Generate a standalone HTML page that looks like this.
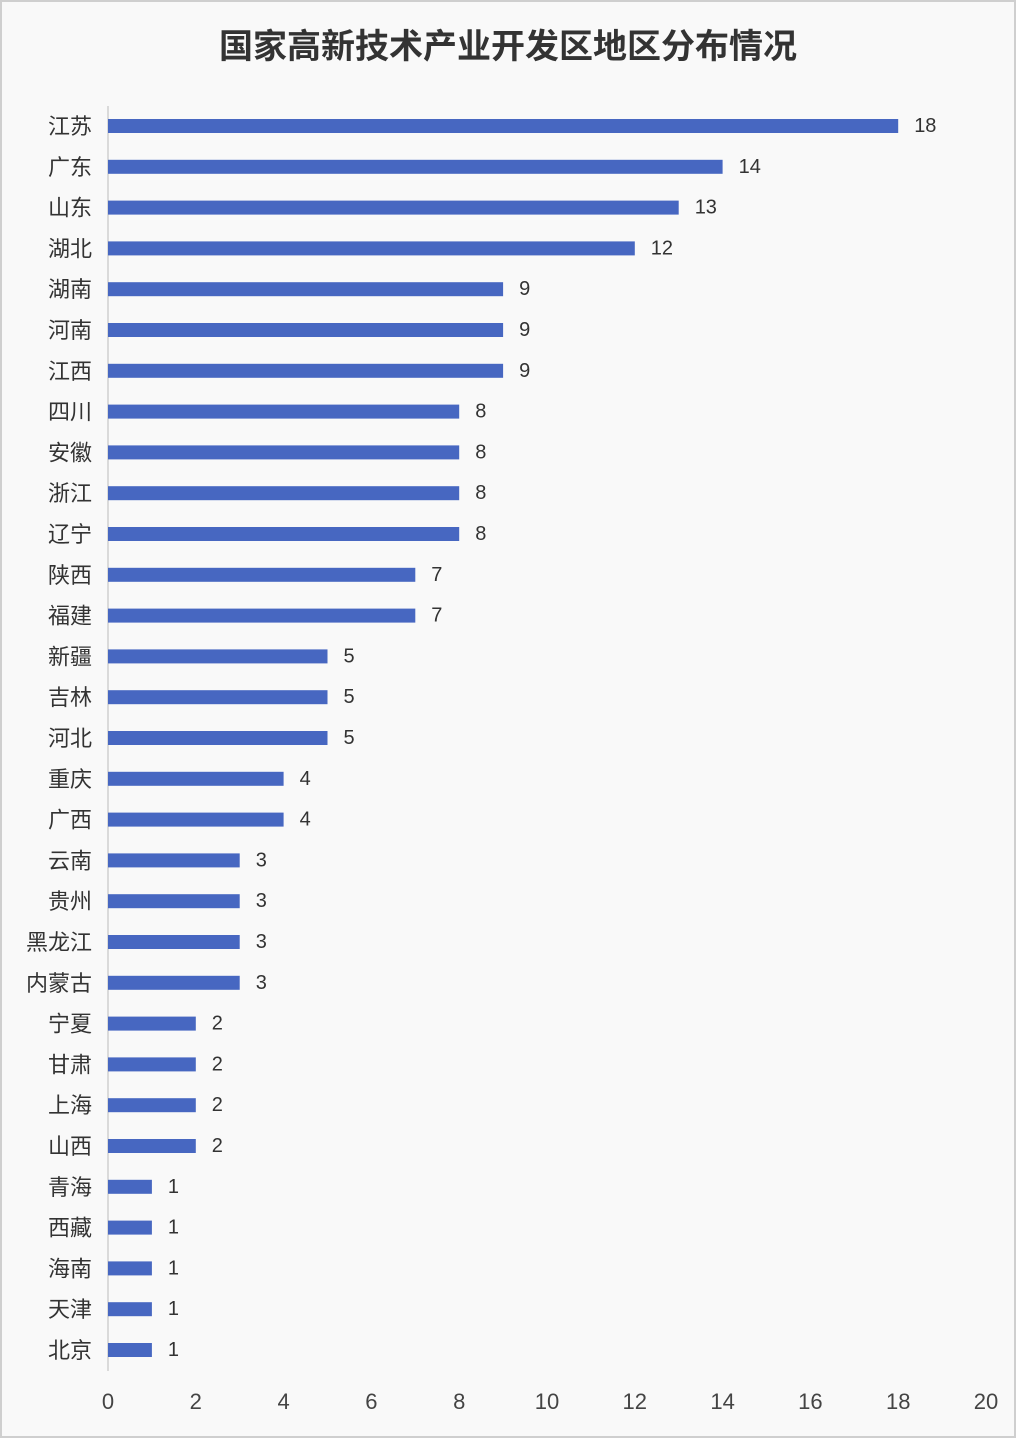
<!DOCTYPE html>
<html><head><meta charset="utf-8"><style>
body{margin:0;width:1016px;height:1456px;background:#fff;overflow:hidden;font-family:"Liberation Sans","Noto Sans CJK SC",sans-serif}
#frame{position:absolute;left:0;top:0;width:1012px;height:1434px;border:2px solid #cfcfcf;background:#f9f9f9}
</style></head><body>
<div id="frame"></div>
<svg id="chart" width="1016" height="1456" style="position:absolute;left:0;top:0">
<text x="508" y="58" text-anchor="middle" font-size="34" font-weight="bold" fill="#333" font-family="Liberation Sans,Noto Sans CJK SC,sans-serif">国家高新技术产业开发区地区分布情况</text>
</svg>
<script>
const categories=["江苏","广东","山东","湖北","湖南","河南","江西","四川","安徽","浙江","辽宁","陕西","福建","新疆","吉林","河北","重庆","广西","云南","贵州","黑龙江","内蒙古","宁夏","甘肃","上海","山西","青海","西藏","海南","天津","北京"];
const values=[18,14,13,12,9,9,9,8,8,8,8,7,7,5,5,5,4,4,3,3,3,3,2,2,2,2,1,1,1,1,1];
const ticks=[0,2,4,6,8,10,12,14,16,18,20];
const svg=document.getElementById('chart');
const NS='http://www.w3.org/2000/svg';
const x0=108,x1=986,xmax=20;
const xs=v=>x0+v/xmax*(x1-x0);
const y0=126,step=40.8;
const ys=i=>y0+i*step;
function mk(t,a){const e=document.createElementNS(NS,t);for(const k in a)e.setAttribute(k,a[k]);svg.appendChild(e);return e;}
const ax=mk('line',{x1:x0,x2:x0,y1:106,y2:1371,stroke:'#d0d0d0','stroke-width':1.5});


categories.forEach((c,i)=>{
  const y=ys(i);
  const r=mk('rect',{x:x0,y:y-7,width:xs(values[i])-x0,height:14,fill:'#4767c1'});
  
  
  const l=mk('text',{x:92,y:y+8,'text-anchor':'end','font-size':22,fill:'#333'});
  l.textContent=c;
  
  
  const v=mk('text',{x:xs(values[i])+16,y:y+6,'font-size':20,fill:'#333'});
  v.textContent=values[i];
  
  
});
ticks.forEach(t=>{
  const e=mk('text',{x:xs(t),y:1409,'text-anchor':'middle','font-size':22,fill:'#444'});
  e.textContent=t;
  
  
});
</script>
</body></html>
